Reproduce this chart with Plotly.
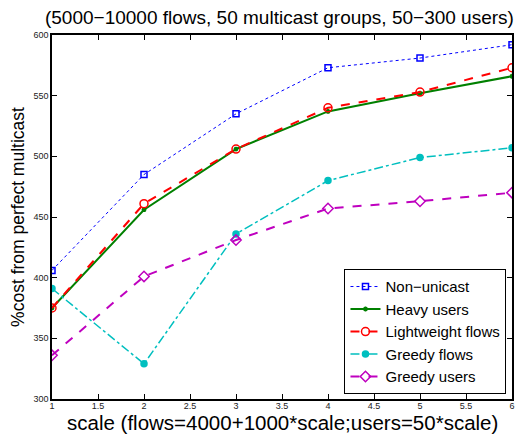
import plotly.graph_objects as go

scale = [1, 2, 3, 4, 5, 6]
non_unicast = [406, 485, 535, 573, 581, 592]
heavy_users = [375, 456, 506, 537, 552, 566]
lightweight_flows = [375, 461, 506, 540, 553, 573]
greedy_flows = [391, 329, 436, 480, 499, 507]
greedy_users = [336, 401, 431, 457, 463, 470]

x_ticks = [1, 1.5, 2, 2.5, 3, 3.5, 4, 4.5, 5, 5.5, 6]
y_ticks = [300, 350, 400, 450, 500, 550, 600]

FONT = "Liberation Sans, Arial, Helvetica, sans-serif"

series = [
    ("Non\u2212unicast", non_unicast, "#0000ff", "dot", "square-open", 6, 1),
    ("Heavy users", heavy_users, "#008000", "solid", "asterisk-open", 4, 2),
    ("Lightweight flows", lightweight_flows, "#ff0000", "dash", "circle-open", 8, 2),
    ("Greedy flows", greedy_flows, "#00bfbf", "dashdot", "circle", 6, 1.5),
    ("Greedy users", greedy_users, "#bf00bf", "dash", "diamond-open", 8, 2),
]

fig = go.Figure()
for name, ys, color, dash, sym, size, width in series:
    fig.add_trace(go.Scatter(
        x=scale, y=ys, name=name, mode="lines+markers",
        line=dict(color=color, dash=dash, width=width),
        marker=dict(symbol=sym, size=size, color=color,
                    line=dict(color=color, width=1.5)),
    ))

axis_common = dict(
    showline=True, linecolor="black", linewidth=1.5, mirror="ticks",
    ticks="inside", ticklen=5, tickcolor="black", showgrid=False,
    zeroline=False, tickfont=dict(size=9, color="#222", family=FONT),
)

# page body has an 8px default margin, so the figure is sized/margined to compensate
fig.update_layout(
    width=519, height=426,
    margin=dict(l=44, r=15, t=27, b=35),
    paper_bgcolor="white", plot_bgcolor="white",
    font=dict(family=FONT, color="black"),
    title=dict(text="(5000\u221210000 flows, 50 multicast groups, 50\u2212300 users)",
               x=0.523, xanchor="center", y=0.994, yanchor="top",
               font=dict(size=19, family=FONT, color="black")),
    xaxis=dict(range=[1, 6], tickvals=x_ticks,
               ticktext=[f"{v:g}" for v in x_ticks],
               automargin=False, ticklabelstandoff=-3,
               **axis_common),
    yaxis=dict(range=[300, 600], tickvals=y_ticks,
               title=dict(text="%cost from perfect multicast",
                          font=dict(size=17.5, family=FONT), standoff=4),
               automargin=False,
               **axis_common),
    legend=dict(x=0.988, xanchor="right", y=0.013, yanchor="bottom",
                bordercolor="black", borderwidth=1, bgcolor="white",
                font=dict(size=15, family=FONT), tracegroupgap=0,
                itemwidth=30),
    showlegend=True,
    annotations=[dict(
        text="scale (flows=4000+1000*scale;users=50*scale)",
        xref="paper", yref="paper", x=0.5, y=0, xanchor="center",
        yanchor="middle", yshift=-23, showarrow=False,
        font=dict(size=20.5, family=FONT, color="black"),
    )],
)

fig.write_html("out.html")
